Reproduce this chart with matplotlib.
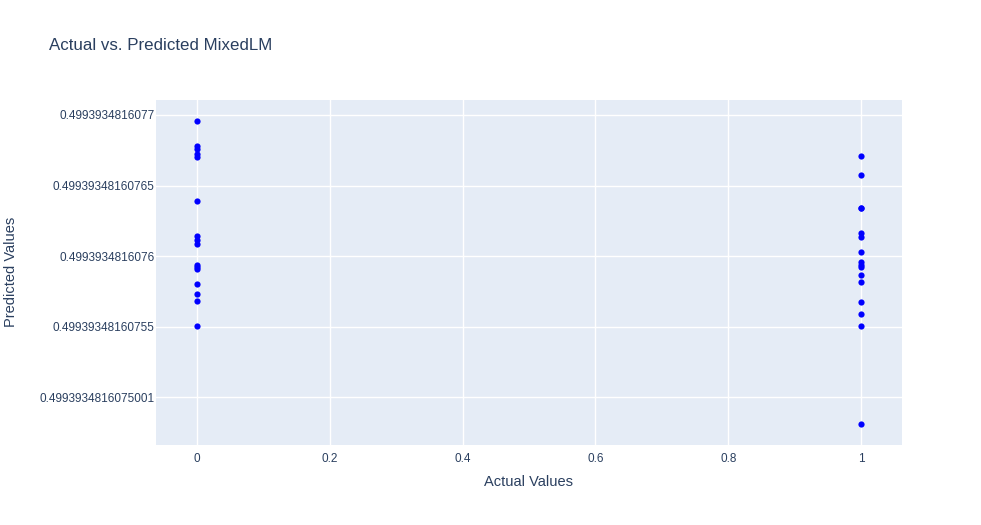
import matplotlib.pyplot as plt

plt.rcParams['font.family'] = ['Liberation Sans', 'DejaVu Sans']

# actual class (0/1) and predicted value from MixedLM
actual_0 = [0] * 16
pred_0 = [0.4993934816076957, 0.4993934816076780, 0.4993934816076758, 0.4993934816076723,
          0.4993934816076702, 0.4993934816076390, 0.4993934816076142, 0.4993934816076114,
          0.4993934816076086, 0.4993934816075937, 0.4993934816075923, 0.4993934816075909,
          0.4993934816075802, 0.4993934816075732, 0.4993934816075682, 0.4993934816075505]
actual_1 = [1] * 16
pred_1 = [0.4993934816076711, 0.4993934816076574, 0.4993934816076339, 0.4993934816076339,
          0.4993934816076161, 0.4993934816076133, 0.4993934816076031, 0.4993934816075958,
          0.4993934816075939, 0.4993934816075925, 0.4993934816075866, 0.4993934816075817,
          0.4993934816075673, 0.4993934816075590, 0.4993934816075507, 0.4993934816074813]

y_ticks = [0.4993934816077, 0.49939348160765, 0.4993934816076, 0.49939348160755, 0.4993934816075001]
y_labels = ['0.4993934816077', '0.49939348160765', '0.4993934816076', '0.49939348160755',
            '0.4993934816075001']
x_ticks = [0, 0.2, 0.4, 0.6, 0.8, 1]
x_labels = ['0', '0.2', '0.4', '0.6', '0.8', '1']

fig = plt.figure(figsize=(9.81, 5.25), dpi=100)
ax = fig.add_axes([156 / 981, 80 / 525, 746 / 981, 345 / 525])
ax.set_facecolor('#E5ECF6')
for s in ax.spines.values():
    s.set_visible(False)

ax.scatter(actual_0 + actual_1, pred_0 + pred_1, s=20, color='blue', zorder=3, linewidths=0)

ax.set_xlim(-0.0617, 1.0617)
ax.set_ylim(0.4993934816074662, 0.4993934816077106)
ax.set_xticks(x_ticks)
ax.set_xticklabels(x_labels)
ax.set_yticks(y_ticks)
ax.set_yticklabels(y_labels)
ax.grid(True, color='white', linewidth=1)
ax.set_axisbelow(True)
ax.tick_params(length=0, labelsize=8.5, colors='#2a3f5f')
ax.tick_params(axis='y', pad=1)
ax.tick_params(axis='x', pad=6)

fig.text(529 / 981, 1 - 482 / 525, 'Actual Values', fontsize=10.5, color='#2a3f5f',
         ha='center', va='center')
fig.text(11 / 981, 1 - 272 / 525, 'Predicted Values', fontsize=10.5, color='#2a3f5f',
         ha='center', va='center', rotation=90)
fig.text(49 / 981, 1 - 45 / 525, 'Actual vs. Predicted MixedLM', fontsize=12.2,
         color='#2a3f5f', va='center')

fig.savefig('out.png', dpi=100)
